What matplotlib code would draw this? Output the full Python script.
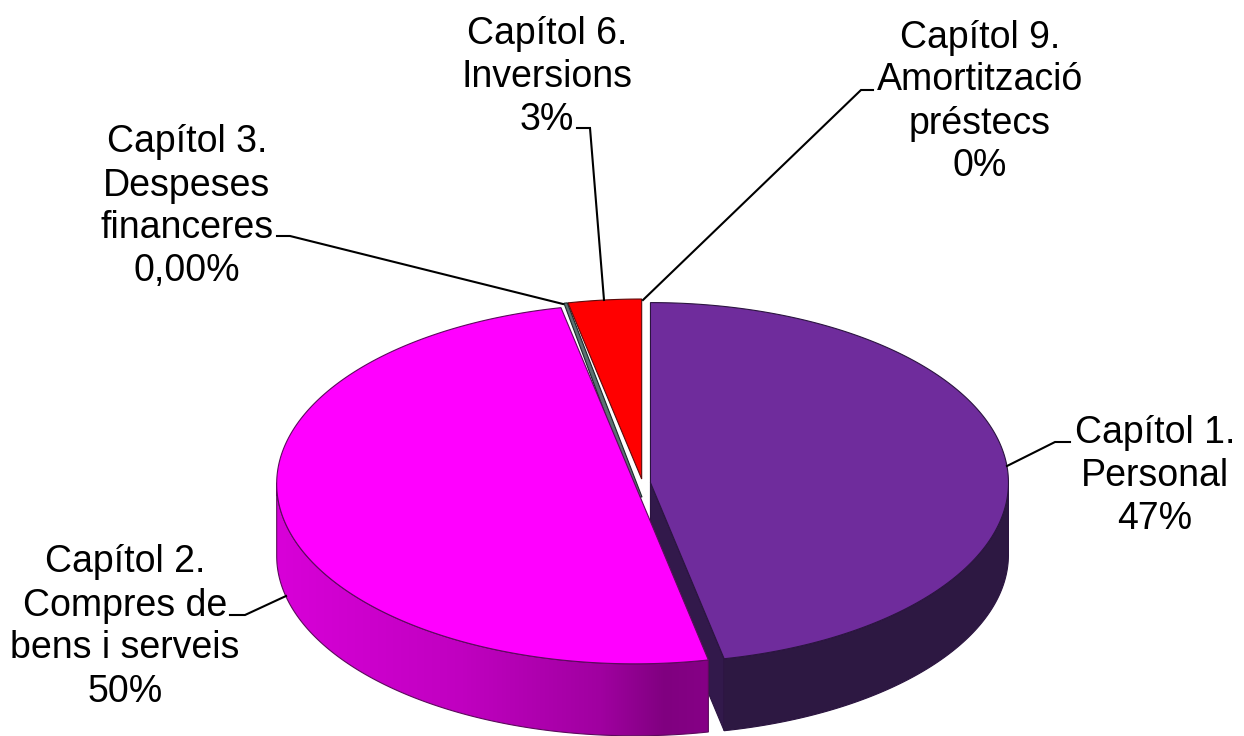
import numpy as np
import matplotlib
matplotlib.use("Agg")
import matplotlib.pyplot as plt
from matplotlib.patches import Polygon
from matplotlib.colors import LinearSegmentedColormap

plt.rcParams["font.family"] = ["Liberation Sans", "DejaVu Sans"]

# data
categories = ["Capítol 1.\nPersonal", "Capítol 2.\nCompres de\nbens i serveis",
              "Capítol 3.\nDespeses\nfinanceres", "Capítol 6.\nInversions",
              "Capítol 9.\nAmortització\npréstecs"]
values = [46.7, 50.0, 0.0, 3.3, 0.0]
pct_labels = ["47%", "50%", "0,00%", "3%", "0%"]

top_colors = ["#6f2c9c", "#ff00ff", "#5a7272", "#ff0000", "#ffffff"]
edge_colors = ["#2b1440", "#5c0a5c", "#1a2a2a", "#5c0a0a", "#333333"]
wall_purple = "#2d1842"
wall_magenta = [(0.0, "#d800d8"), (0.43, "#c000c0"), (0.75, "#a000a0"), (0.9, "#800080"), (1.0, "#860086")]

# layout, in pixels of the reference
label_pos = [(1155, 476), (125, 627), (187, 207), (547, 77), (980, 102)]
leaders = [[(1007, 466), (1055, 442), (1070, 442)],
           [(286, 596), (245, 615), (230, 615)],
           [(563, 304), (290, 236), (277, 236)],
           [(604, 300), (590, 128), (577, 128)],
           [(643, 300), (861, 90), (873, 90)]]
cx, cy = 642.5, 483
rx, ry = 358, 180
depth = 72
explode = 8

fig = plt.figure(figsize=(12.44, 7.36), dpi=100)
ax = fig.add_axes([0, 0, 1, 1])
ax.set_xlim(0, 1244)
ax.set_ylim(736, 0)
ax.axis("off")


def rim(x0, y0, a0, a1, n=200):
    t = np.radians(np.linspace(a0, a1, n))
    return x0 + rx * np.cos(t), y0 - ry * np.sin(t)


def draw_wall(i, xv, yv):
    z = i * 3 + 2
    pts = np.r_[np.c_[xv, yv], np.c_[xv[::-1], yv[::-1] + depth]]
    if i == 1:
        cmap = LinearSegmentedColormap.from_list("wall", wall_magenta)
        grad = np.linspace(0, 1, 256)[None, :]
        clip = Polygon(pts, transform=ax.transData)
        im = ax.imshow(grad, cmap=cmap, extent=(xv.min(), xv.max(), 736, 0), aspect="auto", zorder=z)
        im.set_clip_path(clip)
        ax.set_xlim(0, 1244)
        ax.set_ylim(736, 0)
        ax.add_patch(Polygon(pts, fc="none", ec=edge_colors[i], lw=0.8, zorder=z + 0.5))
    else:
        ax.add_patch(Polygon(pts, fc=wall_purple, ec=edge_colors[i], lw=0.8, zorder=z))


def draw_slice(i, a0, a1):
    mid = np.radians((a0 + a1) / 2)
    x0 = cx + explode * np.cos(mid)
    y0 = cy - explode * np.sin(mid) * 0.5
    xs, ys = rim(x0, y0, a0, a1)

    if i == 0:
        # cut face of the first slice shows between it and the second
        xe, ye = rim(x0, y0, a1, a1, 1)
        ax.add_patch(Polygon([(x0, y0), (xe[0], ye[0]), (xe[0], ye[0] + depth), (x0, y0 + depth)],
                             fc="#32194b", ec=edge_colors[i], lw=0.8, zorder=1))
    # outer wall, only the front part shows
    vis = np.sin(np.radians(np.linspace(a0, a1, len(xs)))) <= 0.02
    if vis.any() and i < 2:
        draw_wall(i, xs[vis], ys[vis])
    pts = np.r_[[[x0, y0]], np.c_[xs, ys]]
    ax.add_patch(Polygon(pts, fc=top_colors[i], ec=edge_colors[i], lw=0.8, zorder=i * 3 + 3))


def draw_sliver(a):
    # the 0,00% slice only shows as a thin grey band under the next slice
    x0, y0 = cx - 1.5, cy - 4
    xs, ys = rim(x0, y0, a + 0.55, a, 10)
    pts = np.r_[[[x0 - 5, y0 + 18]], np.c_[xs, ys], [[x0 + 1, y0 + 18]]]
    ax.add_patch(Polygon(pts, fc=top_colors[2], ec=edge_colors[2], lw=0.8, zorder=3.5))


start = 90
for i, v in enumerate(values):
    sweep = v / sum(values) * 360
    if v > 0:
        draw_slice(i, start, start - sweep)
    elif i == 2:
        draw_sliver(start)
    start -= sweep

for pts in leaders:
    ax.plot(*zip(*pts), color="black", lw=1.5, zorder=30, solid_joinstyle="miter")

for name, pct, (x, y) in zip(categories, pct_labels, label_pos):
    ax.text(x, y, name + "\n" + pct, ha="center", va="center", fontsize=27,
            linespacing=1.25, color="black", zorder=31)

fig.savefig("out.png", dpi=100, facecolor="white")
